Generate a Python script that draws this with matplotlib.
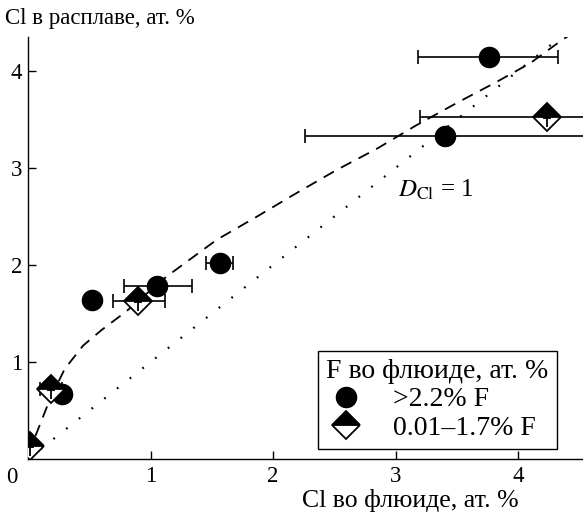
import matplotlib
matplotlib.use('Agg')

import matplotlib.pyplot as plt
from matplotlib.path import Path
from matplotlib.lines import Line2D
import numpy as np

plt.rcParams['font.family'] = ['Liberation Serif', 'DejaVu Serif']
plt.rcParams['mathtext.fontset'] = 'stix'

# Кружки: >2.2% F
circ_x = [3.76, 3.40, 1.57, 1.05, 0.52, 0.28]
circ_y = [4.14, 3.33, 2.02, 1.78, 1.64, 0.67]
circ_xlo = [3.18, 2.26, 1.45, 0.78, 0.52, 0.28]
circ_xhi = [4.33, 4.80, 1.67, 1.34, 0.52, 0.28]

# Ромбы: 0.01–1.7% F
diam_x = [4.24, 0.90, 0.19, 0.02]
diam_y = [3.52, 1.63, 0.72, 0.14]
diam_xlo = [3.20, 0.69, 0.10, 0.02]
diam_xhi = [4.80, 1.12, 0.28, 0.02]

# Пунктирная кривая (тренд)
curve_x = [0.0, 0.08, 0.18, 0.30, 0.45, 0.60, 0.80, 1.00, 1.13, 1.54, 1.87, 2.19, 2.52,
           2.85, 3.17, 3.50, 3.83, 4.10, 4.36, 4.55]
curve_y = [0.05, 0.30, 0.62, 0.93, 1.17, 1.33, 1.52, 1.74, 1.88, 2.26, 2.50, 2.74, 2.98,
           3.20, 3.44, 3.67, 3.89, 4.08, 4.32, 4.47]

fig = plt.figure(figsize=(5.83, 5.2), dpi=100)
ax = fig.add_axes([0.048, 0.117, 0.952, 0.812])

# D_Cl = 1
ax.plot([0, 4.6], [0, 4.6], color='black', lw=1.6, dashes=(0.8, 6.5), zorder=2)
ax.plot(curve_x, curve_y, color='black', lw=1.3, dashes=(6.5, 4.5), zorder=2)

cxerr = [np.array(circ_x) - np.array(circ_xlo), np.array(circ_xhi) - np.array(circ_x)]
ax.errorbar(circ_x, circ_y, xerr=cxerr, fmt='none', ecolor='black', elinewidth=1.2,
            capsize=5, capthick=1.2, zorder=3)
ax.plot(circ_x, circ_y, 'o', color='black', ms=14.5, zorder=4, clip_on=False)

dxerr = [np.array(diam_x) - np.array(diam_xlo), np.array(diam_xhi) - np.array(diam_x)]
ax.errorbar(diam_x, diam_y, xerr=dxerr, fmt='none', ecolor='black', elinewidth=1.2,
            capsize=5, capthick=1.2, zorder=3)
ax.plot(diam_x, diam_y, 'D', ms=14.5, fillstyle='top', markerfacecolor='black',
        markerfacecoloralt='white', markeredgecolor='black', markeredgewidth=1.3, zorder=5)

# маленькая "T" внутри ромба
t_path = Path([(-0.45, -0.15), (0.45, -0.15), (0.0, -0.15), (0.0, -1.0)],
              [Path.MOVETO, Path.LINETO, Path.MOVETO, Path.LINETO])
ax.plot(diam_x, diam_y, linestyle='none', marker=t_path, ms=14, markerfacecolor='none',
        markeredgecolor='black', markeredgewidth=1.3, zorder=6)

ax.set_xlim(0, 4.53)
ax.set_ylim(0, 4.35)
ax.spines['top'].set_visible(False)
ax.spines['right'].set_visible(False)
for s in ['left', 'bottom']:
    ax.spines[s].set_linewidth(1.0)

ax.set_xticks([1, 2, 3, 4])
ax.set_yticks([1, 2, 3, 4])
ax.tick_params(direction='in', length=6, width=1.0, labelsize=16.5)
ax.tick_params(axis='x', pad=5)
ax.tick_params(axis='y', pad=4)
ax.text(-0.13, -0.19, '0', transform=ax.transData, fontsize=16.5, ha='center', va='center',
        clip_on=False)

fig.text(0.008, 0.965, 'Cl в расплаве, ат. %', fontsize=16.5, ha='left', va='center')
fig.text(0.889, 0.038, 'Cl во флюиде, ат. %', fontsize=18.5, ha='right', va='center')

ax.text(3.02, 2.77, r'$D_{\mathrm{Cl}}$ = 1', fontsize=18, ha='left', va='center')

handles = [
    Line2D([], [], ls='none', marker='o', color='black', ms=14.5),
    Line2D([], [], ls='none', marker='D', ms=14.5, fillstyle='top', markerfacecolor='black',
           markerfacecoloralt='white', markeredgecolor='black', markeredgewidth=1.3),
]
leg = ax.legend(handles, ['>2.2% F', '0.01–1.7% F'], title='F во флюиде, ат. %',
                loc='lower right', bbox_to_anchor=(0.953, 0.024), fontsize=20,
                title_fontsize=20, frameon=True, fancybox=False, edgecolor='black',
                framealpha=1, borderpad=0.3, handletextpad=1.0, handlelength=1.4,
                labelspacing=0.1, borderaxespad=0.0, alignment='left')
leg.get_frame().set_linewidth(1.0)

plt.savefig('out.png', dpi=100)
